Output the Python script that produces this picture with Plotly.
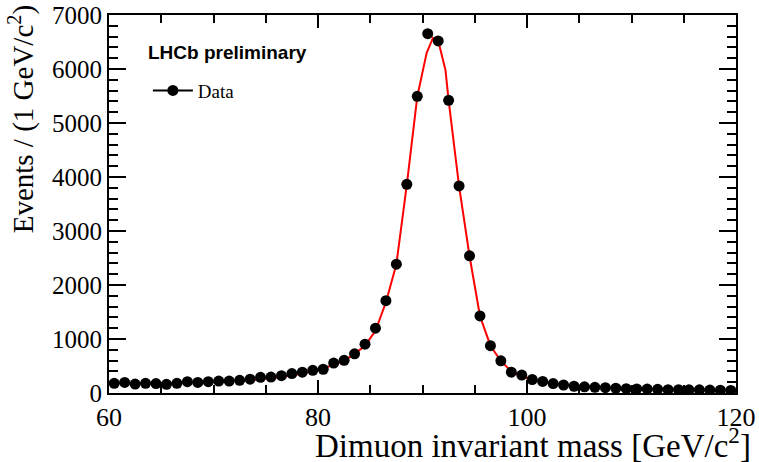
import plotly.graph_objects as go

# Bin centres (GeV/c^2)
mass = [60.5 + i for i in range(60)]
events = [180, 195, 165, 180, 175, 160, 180, 210, 195, 210,
          220, 220, 235, 255, 290, 295, 320, 360, 385, 420,
          440, 555, 605, 725, 905, 1200, 1710, 2385, 3865, 5495,
          6655, 6520, 5420, 3835, 2540, 1428, 876, 595, 385, 333,
          250, 215, 175, 148, 125, 115, 105, 98, 88, 80,
          75, 72, 68, 62, 60, 58, 58, 55, 52, 48]

# Fit curve
fit_mass = [60, 62, 64, 66, 68, 70, 72, 74, 76, 78, 80, 81.5, 82.5, 83.5,
            84.5, 85.5, 86.5, 87.5, 88.5, 89.5, 90.4, 91.0, 91.6, 92.2,
            92.5, 93.5, 94.5, 95.5, 96.5, 97.5, 98.5, 99.5, 100.5, 102,
            104, 106, 108, 110, 113, 116, 120]
fit_vals = [185, 183, 183, 186, 193, 204, 220, 246, 285, 340, 425, 520, 600, 720,
            880, 1150, 1680, 2385, 3860, 5490, 6300, 6575, 6450, 5980,
            5420, 3830, 2537, 1426, 876, 593, 400, 310, 250, 195,
            150, 120, 98, 82, 68, 58, 50]

serif = "Liberation Serif"

fig = go.Figure()
fig.add_trace(go.Scatter(x=fit_mass, y=fit_vals, mode="lines",
                         line=dict(color="#ff0000", width=2), showlegend=False,
                         hoverinfo="skip"))
fig.add_trace(go.Scatter(x=mass, y=events, mode="markers",
                         marker=dict(color="black", size=11), showlegend=False))
fig.add_trace(go.Scatter(x=[None], y=[None], mode="lines+markers", name="Data",
                         marker=dict(color="black", size=11),
                         line=dict(color="black", width=2)))

fig.update_layout(
    width=759, height=462,
    margin=dict(l=109, r=23, t=15, b=69),
    plot_bgcolor="white", paper_bgcolor="white",
    showlegend=True,
    legend=dict(x=0.062, y=0.80, xanchor="left", yanchor="middle", itemwidth=40,
                font=dict(family=serif, size=19, color="black"),
                bgcolor="rgba(0,0,0,0)"),
    xaxis=dict(range=[60, 120], tickvals=[60, 80, 100, 120], automargin=False,
               ticks="inside", ticklen=13, tickwidth=2, tickcolor="black",
               minor=dict(ticks="inside", ticklen=8, tickwidth=2, dtick=5,
                          tickcolor="black", showgrid=False),
               showline=True, linewidth=2, linecolor="black", mirror="allticks",
               showgrid=False, zeroline=False,
               tickfont=dict(family=serif, size=26, color="black")),
    yaxis=dict(range=[0, 7000], dtick=1000, automargin=False,
               ticks="inside", ticklen=17, tickwidth=2, tickcolor="black",
               minor=dict(ticks="inside", ticklen=9, tickwidth=2, dtick=200,
                          tickcolor="black", showgrid=False),
               showline=True, linewidth=2, linecolor="black", mirror="allticks",
               showgrid=False, zeroline=False,
               tickfont=dict(family=serif, size=25, color="black")),
    annotations=[
        dict(text="Dimuon invariant mass [GeV/c<sup>2</sup>]", xref="paper", yref="paper",
             x=1.027, y=-0.072, xanchor="right", yanchor="top", showarrow=False,
             font=dict(family=serif, size=33, color="black")),
        dict(text="Events / (1 GeV/c<sup>2</sup>)", xref="paper", yref="paper",
             x=-0.172, y=1.03, xanchor="left", yanchor="top", textangle=-90,
             showarrow=False, font=dict(family=serif, size=29, color="black")),
        dict(text="<b>LHCb preliminary</b>", xref="paper", yref="paper",
             x=0.059, y=0.902, xanchor="left", yanchor="middle", showarrow=False,
             font=dict(family="Liberation Sans", size=19, color="black")),
    ],
)

fig.write_html("out.html")
